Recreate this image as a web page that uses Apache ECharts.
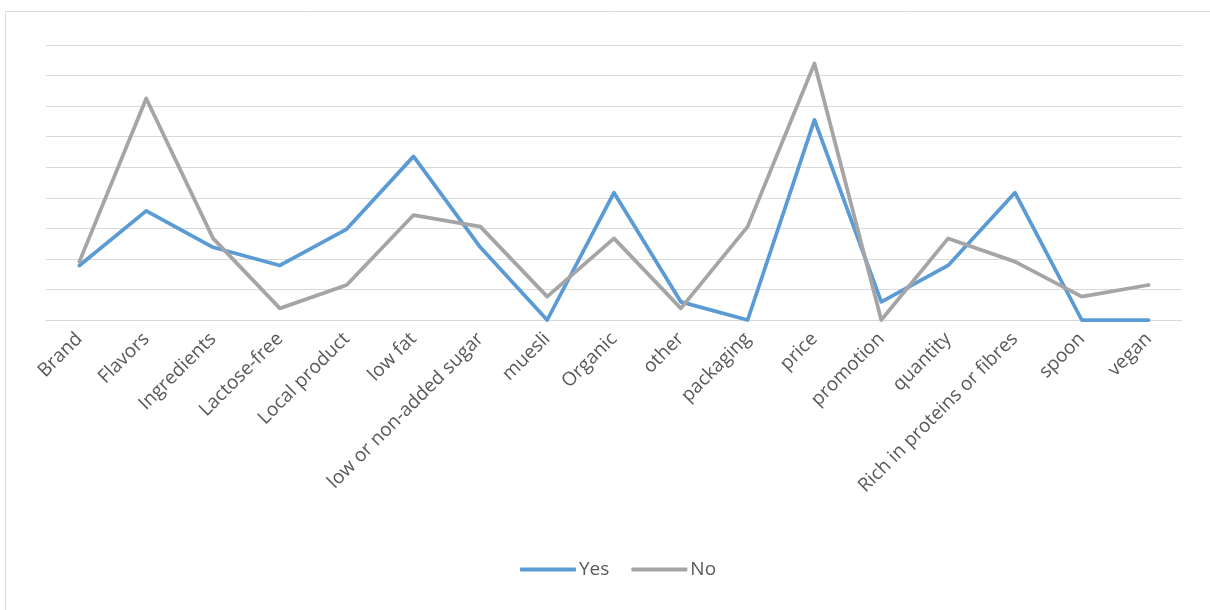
<!DOCTYPE html>
<html>
<head>
<meta charset="utf-8">
<script src="https://cdn.jsdelivr.net/npm/echarts@6/dist/echarts.min.js"></script>
<style>
  html, body { margin: 0; padding: 0; background: #ffffff; }
  #chart { width: 1210px; height: 610px; }
</style>
</head>
<body>
<div id="chart"></div>
<script>
// Purchase criteria, share of mentions (%) by answer group
const categories = [
  'Brand', 'Flavors', 'Ingredients', 'Lactose-free', 'Local product', 'low fat',
  'low or non-added sugar', 'muesli', 'Organic', 'other', 'packaging', 'price',
  'promotion', 'quantity', 'Rich in proteins or fibres', 'spoon', 'vegan'
];
const yesValues = [3.57, 7.14, 4.76, 3.57, 5.95, 10.71, 4.76, 0, 8.33, 1.19, 0, 13.10, 1.19, 3.57, 8.33, 0, 0];
const noValues  = [3.82, 14.50, 5.34, 0.76, 2.29, 6.87, 6.11, 1.53, 5.34, 0.76, 6.11, 16.79, 0, 5.34, 3.82, 1.53, 2.29];
const seriesNames = ['Yes', 'No'];

const chart = echarts.init(document.getElementById('chart'), null, { renderer: 'canvas' });

const labelFont = '"Open Sans", "Liberation Sans", sans-serif';

chart.setOption({
  backgroundColor: '#ffffff',
  animation: false,
  graphic: [{
    type: 'rect',
    shape: { x: 5.5, y: 11.5, width: 1220, height: 620 },
    style: { fill: 'none', stroke: '#d9d9d9', lineWidth: 1 },
    silent: true
  }],
  grid: { left: 46, right: 28, top: 45, height: 275, containLabel: false },
  legend: {
    data: seriesNames,
    top: 555,
    left: 515,
    icon: 'roundRect',
    itemWidth: 56,
    itemHeight: 4,
    itemGap: 22,
    textStyle: { fontFamily: labelFont, fontSize: 19, color: '#595959', padding: [0, 0, 0, -2] }
  },
  xAxis: {
    type: 'category',
    data: categories,
    boundaryGap: true,
    axisLine: { show: true, lineStyle: { color: '#d9d9d9', width: 1 } },
    axisTick: { show: false },
    axisLabel: {
      rotate: 45,
      interval: 0,
      margin: 16,
      fontFamily: labelFont,
      fontSize: 19,
      color: '#595959'
    }
  },
  yAxis: {
    type: 'value',
    min: 0,
    max: 18,
    interval: 2,
    axisLabel: { show: false },
    axisLine: { show: false },
    axisTick: { show: false },
    splitLine: { lineStyle: { color: '#d9d9d9', width: 1 } }
  },
  series: [
    {
      name: seriesNames[0],
      type: 'line',
      data: yesValues,
      symbol: 'none',
      lineStyle: { color: '#5b9bd5', width: 3.75, cap: 'round', join: 'round' },
      itemStyle: { color: '#5b9bd5' }
    },
    {
      name: seriesNames[1],
      type: 'line',
      data: noValues,
      symbol: 'none',
      lineStyle: { color: '#a5a5a5', width: 3.75, cap: 'round', join: 'round' },
      itemStyle: { color: '#a5a5a5' }
    }
  ]
});
</script>
</body>
</html>
